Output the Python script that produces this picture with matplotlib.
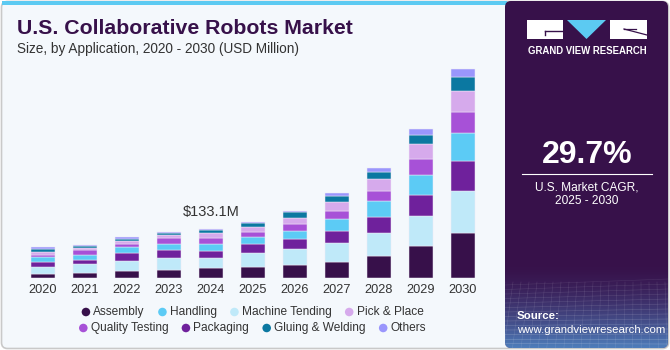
import numpy as np
import matplotlib.pyplot as plt
from matplotlib.patches import Rectangle, FancyBboxPatch, Polygon

plt.rcParams['font.family'] = ['Liberation Sans', 'DejaVu Sans']

# values in USD million
years = ['2020', '2021', '2022', '2023', '2024', '2025', '2026', '2027', '2028', '2029', '2030']
assembly        = [11.5, 15.3, 20.6, 22.2, 26.8, 31.4, 35.6, 44.8, 59.8, 86.6, 120.6]
machine_tending = [19.6, 22.2, 26.8, 33.0, 26.8, 35.6, 42.1, 49.0, 62.4, 81.2, 114.4]
packaging       = [13.4, 12.6, 21.4, 20.6, 20.6, 24.9, 26.8, 34.0, 42.9, 56.3, 79.6]
handling        = [12.6, 12.6, 14.2, 16.1, 18.0, 19.6, 23.3, 30.3, 41.0, 52.8, 74.2]
quality_testing = [6.2, 13.4, 9.9, 16.1, 15.3, 13.4, 16.9, 23.3, 28.7, 42.1, 56.3]
pick_place      = [8.0, 6.2, 8.0, 7.2, 13.4, 13.4, 18.0, 24.1, 30.3, 39.4, 55.5]
gluing_welding  = [6.2, 4.6, 5.4, 5.4, 8.8, 8.8, 14.2, 15.3, 20.6, 24.9, 37.5]
others          = [5.4, 3.5, 5.4, 3.5, 3.5, 3.5, 4.6, 7.2, 8.8, 16.1, 22.2]

label_year = '2024'
label_text = '$133.1M'
cagr = '29.7%'

colors = {
    'Assembly': '#37104a',
    'Handling': '#5ccbf5',
    'Machine Tending': '#bfe9f9',
    'Pick & Place': '#d6aaec',
    'Quality Testing': '#a751d7',
    'Packaging': '#6f219c',
    'Gluing & Welding': '#0b78a1',
    'Others': '#9a96fc',
}

# bottom to top order of the stack
stack = [('Assembly', assembly), ('Machine Tending', machine_tending),
         ('Packaging', packaging), ('Handling', handling),
         ('Quality Testing', quality_testing), ('Pick & Place', pick_place),
         ('Gluing & Welding', gluing_welding), ('Others', others)]

legend_rows = [['Assembly', 'Handling', 'Machine Tending', 'Pick & Place'],
               ['Quality Testing', 'Packaging', 'Gluing & Welding', 'Others']]

W, H = 670, 350
fig = plt.figure(figsize=(W / 100, H / 100), dpi=100)
fig.patch.set_facecolor('white')

# decoration layer in pixel coordinates
deco = fig.add_axes([0, 0, 1, 1], zorder=0)
deco.set_xlim(0, W)
deco.set_ylim(H, 0)
deco.axis('off')

bg = '#f4f8fc'
deco.add_patch(FancyBboxPatch((1.5, 1.5), W - 3, H - 3, boxstyle='round,pad=0,rounding_size=6',
                              facecolor=bg, edgecolor='#c9c9c9', lw=1.2))
deco.add_patch(Rectangle((2, 0.5), 505, 4.5, facecolor='#5ccaf2', edgecolor='none'))

# right panel
px0, px1 = 505, 668
panel = FancyBboxPatch((px0, 1), px1 - px0, H - 3, boxstyle='round,pad=0,rounding_size=6',
                       facecolor='#37114a', edgecolor='none')
deco.add_patch(panel)
grad = np.zeros((100, 2, 4))
t = np.linspace(0, 1, 100)[:, None]
grad[..., 0] = 0.33
grad[..., 1] = 0.60
grad[..., 2] = 0.85
grad[..., 3] = t ** 1.6 * 0.8
im = deco.imshow(grad, extent=[px0, px1, H - 2, 262], aspect='auto', interpolation='bilinear', zorder=1)
im.set_clip_path(panel)
# faint mesh in the bottom of the panel
for k in range(14):
    yy = 285 + k * 4.5
    ln, = deco.plot([px0, px1], [yy, yy - 6 + k * 0.5], color='white', lw=0.4, alpha=0.10 + k * 0.012, zorder=2)
    ln.set_clip_path(panel)
for k in range(22):
    xx = px0 + k * 8
    ln, = deco.plot([xx, xx - 10 + k * 0.6], [282, H], color='white', lw=0.4, alpha=0.13, zorder=2)
    ln.set_clip_path(panel)

# logo
deco.add_patch(Rectangle((527, 20), 36, 19, facecolor='white', edgecolor='none', zorder=3))
deco.add_patch(Polygon([(567, 20), (606, 20), (586.5, 39)], closed=True, facecolor='#5ccaf2', edgecolor='none', zorder=3))
deco.add_patch(Rectangle((610, 20), 37, 19, facecolor='white', edgecolor='none', zorder=3))
deco.plot([545, 563], [31, 31], color='#37114a', lw=1.0, zorder=4)
deco.plot([545, 545], [31, 35], color='#37114a', lw=1.0, zorder=4)
deco.plot([624, 647], [29, 35], color='#37114a', lw=0.9, zorder=4)
deco.plot([624, 636], [29, 29], color='#37114a', lw=0.9, zorder=4)
deco.text(587, 51, 'GRAND VIEW RESEARCH', color='white', fontsize=6.9, fontweight='bold',
          ha='center', va='center', zorder=4)

deco.text(587, 155, cagr, color='white', fontsize=23, fontweight='bold', ha='center', va='center', zorder=4)
deco.plot([522, 652], [173.5, 173.5], color='white', lw=0.8, zorder=4)
deco.text(587, 187, 'U.S. Market CAGR,', color='white', fontsize=8.6, ha='center', va='center', zorder=4)
deco.text(587, 201, '2025 - 2030', color='white', fontsize=8.6, ha='center', va='center', zorder=4)
deco.text(517, 316, 'Source:', color='white', fontsize=8.2, fontweight='bold', ha='left', va='center', zorder=4)
deco.text(517, 330, 'www.grandviewresearch.com', color='white', fontsize=8.2, ha='left', va='center', zorder=4)

# titles
deco.text(17, 28, 'U.S. Collaborative Robots Market', color='#37114a', fontsize=15.3,
          fontweight='bold', ha='left', va='center')
deco.text(17, 49, 'Size, by Application, 2020 - 2030 (USD Million)', color='#333333',
          fontsize=9.8, ha='left', va='center')

# chart
base_px, top_px, left_px, right_px = 278.3, 60, 22, 484
ax = fig.add_axes([left_px / W, 1 - base_px / H, (right_px - left_px) / W, (base_px - top_px) / H], zorder=2)
ax.patch.set_alpha(0)
x = np.arange(len(years))
bottom = np.zeros(len(years))
for name, vals in stack:
    ax.bar(x, vals, width=0.57, bottom=bottom, color=colors[name], edgecolor='#efe9f5', linewidth=0.35)
    bottom += np.array(vals)
ax.set_xlim(-0.5, len(years) - 0.5)
ax.set_ylim(0, (base_px - top_px) * 133.1 / 49.7)
ax.set_xticks(x)
ax.set_xticklabels(years, fontsize=9.2, color='#333333')
ax.tick_params(axis='x', length=0, pad=4)
ax.set_yticks([])
for s in ax.spines.values():
    s.set_visible(False)
i = years.index(label_year)
ax.annotate(label_text, (x[i], bottom[i]), xytext=(0, 7), textcoords='offset points',
            ha='center', va='bottom', fontsize=10.5, color='#333333')

# legend, laid out as flowing rows
fig.canvas.draw()
r = fig.canvas.get_renderer()
row_y = [312, 328]
for row, yy in zip(legend_rows, row_y):
    items = []
    for name in row:
        tx = deco.text(0, yy, name, fontsize=8.6, color='#333333', ha='left', va='center')
        w = tx.get_window_extent(renderer=r).width
        items.append((name, tx, w))
    total = sum(11 + w for _, _, w in items) + 14 * (len(items) - 1)
    xx = 253 - total / 2
    for name, tx, w in items:
        deco.scatter([xx + 3.5], [yy], s=38, color=colors[name], edgecolors='none')
        tx.set_x(xx + 11)
        xx += 11 + w + 14

fig.savefig('out.png', dpi=100, facecolor=fig.get_facecolor())
